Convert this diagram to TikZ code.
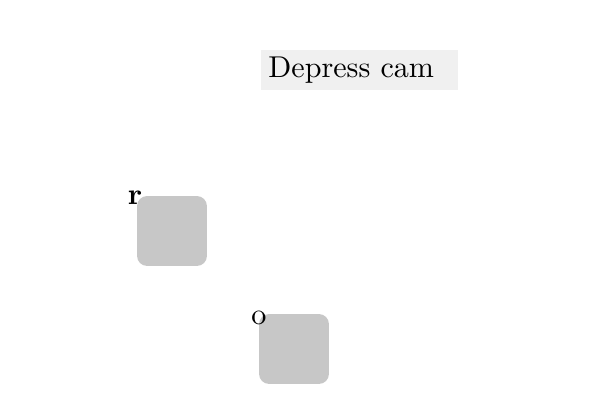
\documentclass[tikz,border=0pt]{standalone}
\begin{document}
\begin{tikzpicture}[x=0.332pt,y=-0.332pt,
  part/.style={fill=black!22,rounded corners=3.3pt,minimum size=23.2pt,inner sep=0pt},
  caption/.style={fill=black!6,inner xsep=2.6pt,inner ysep=0pt,minimum height=13.3pt,text width=60.5pt,align=left,anchor=west}]
\useasboundingbox (0,0) rectangle (600,400);
\node[caption] (cam) at (260,70) {\raisebox{-0.6pt}{Depress\ cam}};
\node[part] (rbox) at (172,231) {};
\node[part] (obox) at (294,349) {};
\node (rlab) at (135,198) {\textbf{r}};
\node (olab) at (259,318) {o};
\end{tikzpicture}
\end{document}
